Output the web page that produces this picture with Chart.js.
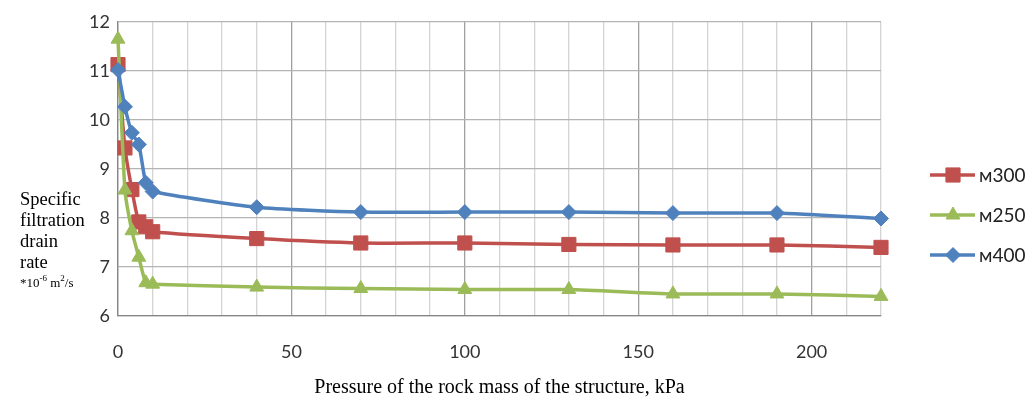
<!DOCTYPE html>
<html>
<head>
<meta charset="utf-8">
<script src="https://cdn.jsdelivr.net/npm/chart.js@4/dist/chart.umd.min.js"></script>
<style>
  body { margin: 0; background: #fff; }
  #wrap { width: 1033px; height: 401px; }
</style>
</head>
<body>
<div id="wrap"><canvas id="c" width="1033" height="401"></canvas></div>
<script>
// pressure, kPa
var pressure = [0, 2, 4, 6, 8, 10, 40, 70, 100, 130, 160, 190, 220];
// specific filtration rate *10^-6 m2/s
var m300 = [11.13, 9.43, 8.58, 7.92, 7.82, 7.72, 7.58, 7.49, 7.49, 7.46, 7.45, 7.45, 7.40];
var m250 = [11.65, 8.57, 7.74, 7.20, 6.68, 6.65, 6.59, 6.56, 6.54, 6.54, 6.45, 6.45, 6.40];
var m400 = [11.02, 10.27, 9.74, 9.50, 8.72, 8.54, 8.22, 8.12, 8.12, 8.12, 8.10, 8.10, 7.99];
var names = ['м300', 'м250', 'м400'];
var colors = ['#C0504D', '#9BBB59', '#4F81BD'];
var styles = ['rect', 'triangle', 'rectRot'];
var radii = [10, 8, 7.5];
var yTitle = ['Specific', 'filtration', 'drain', 'rate'];
var xTitle = 'Pressure of the rock mass of the structure, kPa';

function points(vals){
  return pressure.map(function(p, i){ return {x: p, y: vals[i]}; });
}

var series = [m300, m250, m400];
var datasets = series.map(function(vals, i){
  return {
    label: names[i],
    data: points(vals),
    borderColor: colors[i],
    backgroundColor: colors[i],
    borderWidth: 3.5,
    pointStyle: styles[i],
    pointRadius: radii[i],
    pointHoverRadius: radii[i],
    pointBorderWidth: 1,
    tension: 0.2,
    clip: false,
    order: 3 - i
  };
});

// y axis title drawn at the left, several lines, serif
var yTitlePlugin = {
  id: 'yTitle',
  afterDraw: function(chart){
    var ctx = chart.ctx;
    ctx.save();
    ctx.fillStyle = '#000';
    ctx.textBaseline = 'alphabetic';
    ctx.textAlign = 'left';
    ctx.font = '18.5px "Liberation Serif"';
    var y0 = 205;
    for (var i = 0; i < yTitle.length; i++) {
      ctx.fillText(yTitle[i], 20, y0 + i * 21);
    }
    // *10^-6 m^2/s
    var yb = y0 + 4 * 21 - 2;
    var x = 20;
    ctx.font = '13px "Liberation Serif"';
    ctx.fillText('*10', x, yb); x += ctx.measureText('*10').width;
    ctx.font = '9px "Liberation Serif"';
    ctx.fillText('-6', x, yb - 6); x += ctx.measureText('-6').width;
    ctx.font = '13px "Liberation Serif"';
    ctx.fillText(' m', x, yb); x += ctx.measureText(' m').width;
    ctx.font = '9px "Liberation Serif"';
    ctx.fillText('2', x, yb - 6); x += ctx.measureText('2').width;
    ctx.font = '13px "Liberation Serif"';
    ctx.fillText('/s', x, yb);
    ctx.restore();
  }
};

// legend on the right with line + marker
var legendPlugin = {
  id: 'sideLegend',
  afterDraw: function(chart){
    var ctx = chart.ctx;
    ctx.save();
    for (var i = 0; i < names.length; i++) {
      var y = 175 + i * 40;
      ctx.strokeStyle = colors[i];
      ctx.lineWidth = 3.5;
      ctx.beginPath();
      ctx.moveTo(930, y);
      ctx.lineTo(975, y);
      ctx.stroke();
      ctx.fillStyle = colors[i];
      ctx.lineWidth = 1;
      Chart.helpers.drawPoint(ctx, {pointStyle: styles[i], radius: radii[i], rotation: 0, borderWidth: 1}, 953, y);
      ctx.fillStyle = '#222';
      ctx.font = '19px Lato';
      ctx.textBaseline = 'middle';
      ctx.textAlign = 'left';
      ctx.fillText(names[i], 979, y + 1);
    }
    ctx.restore();
  }
};

new Chart(document.getElementById('c'), {
  type: 'line',
  data: { datasets: datasets },
  options: {
    responsive: false,
    animation: false,
    layout: { padding: { left: 0, right: 152, top: 22, bottom: 0 } },
    plugins: {
      legend: { display: false },
      tooltip: { enabled: false }
    },
    scales: {
      x: {
        type: 'linear',
        min: 0,
        max: 220,
        afterFit: function(s){ s.height = 85; },
        ticks: {
          stepSize: 10,
          autoSkip: false,
          maxRotation: 0,
          padding: 25,
          color: '#333',
          font: { family: 'Lato', size: 18 },
          callback: function(v){ return v % 50 === 0 ? String(v) : ''; }
        },
        grid: {
          drawTicks: false,
          color: function(c){ return c.tick && c.tick.value % 50 === 0 ? '#a0a0a0' : '#d4d4d4'; },
          lineWidth: 1.3
        },
        border: { color: '#868686', width: 1.3 },
        title: {
          display: true,
          text: xTitle,
          color: '#000',
          font: { family: 'Liberation Serif', size: 20 },
          padding: { top: 0, bottom: 1 }
        }
      },
      y: {
        min: 6,
        max: 12,
        afterFit: function(s){ s.width = 118; },
        ticks: {
          stepSize: 1,
          padding: 8,
          color: '#333',
          font: { family: 'Lato', size: 18 }
        },
        grid: {
          drawTicks: false,
          color: '#b4b4b4',
          lineWidth: 1.3
        },
        border: { color: '#868686', width: 1.3 }
      }
    }
  },
  plugins: [yTitlePlugin, legendPlugin]
});
</script>
</body>
</html>
